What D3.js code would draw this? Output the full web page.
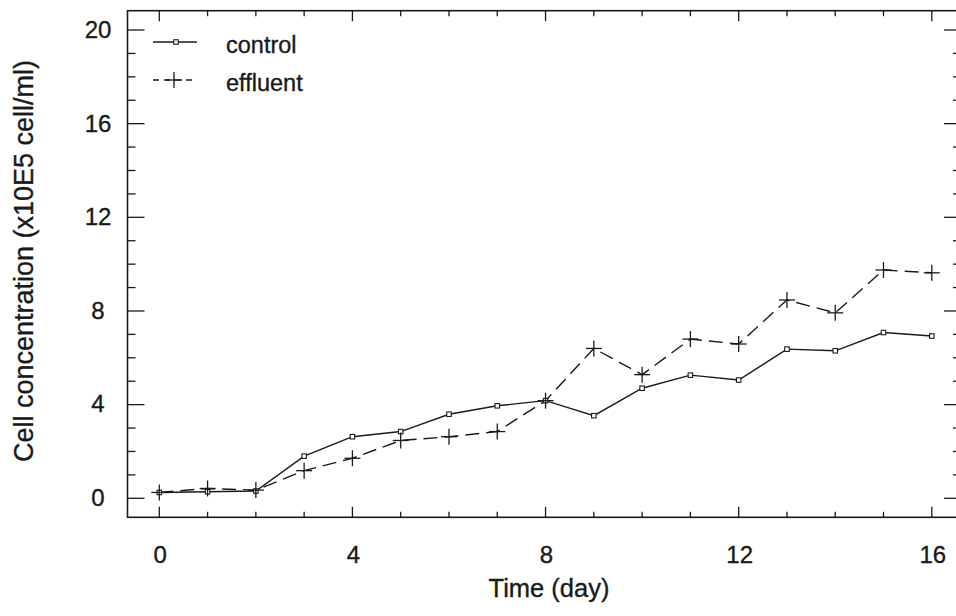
<!DOCTYPE html>
<html>
<head>
<meta charset="utf-8">
<script src="https://cdn.jsdelivr.net/npm/d3@7"></script>
<style>
  html, body { margin: 0; padding: 0; background: #fff; }
  svg { display: block; }
  text { font-family: "Liberation Sans", Arial, Helvetica, sans-serif; fill: #1a1a1a; stroke: #1a1a1a; stroke-width: 0.35px; }
</style>
</head>
<body>
<svg id="chart" width="956" height="616"></svg>
<script>
// ---- data ----
const days = [0, 1, 2, 3, 4, 5, 6, 7, 8, 9, 10, 11, 12, 13, 14, 15, 16];
const control  = [0.25, 0.28, 0.31, 1.80, 2.63, 2.85, 3.59, 3.95, 4.17, 3.53, 4.70, 5.26, 5.05, 6.37, 6.30, 7.08, 6.93];
const effluent = [0.25, 0.42, 0.35, 1.18, 1.71, 2.47, 2.63, 2.85, 4.17, 6.40, 5.28, 6.80, 6.59, 8.47, 7.92, 9.75, 9.63];
const seriesNames = ["control", "effluent"];
const xTickLabels = [0, 4, 8, 12, 16];
const yTickLabels = [0, 4, 8, 12, 16, 20];
const xTitle = "Time (day)";
const yTitle = "Cell concentration (x10E5 cell/ml)";

// ---- layout ----
const svg = d3.select("#chart");
const frame = { left: 127.5, right: 961, top: 10.7, bottom: 517.3 };
const x = d3.scaleLinear().domain([0, 16]).range([159.3, 931.8]);
const y = d3.scaleLinear().domain([0, 20]).range([498.3, 30]);
const ink = "#1a1a1a";
const fontSize = 23;

// frame
svg.append("rect")
  .attr("x", frame.left).attr("y", frame.top)
  .attr("width", frame.right - frame.left).attr("height", frame.bottom - frame.top)
  .attr("fill", "none").attr("stroke", ink).attr("stroke-width", 1.6);

// ticks: minor every 1 unit, major every 4
const yMinor = d3.range(0, 21, 1);
const xMinor = d3.range(0, 17, 1);
const ticks = svg.append("g").attr("stroke", ink).attr("stroke-width", 1.3);
yMinor.forEach(v => {
  const len = v % 4 === 0 ? 17 : 8;
  ticks.append("line").attr("x1", frame.left).attr("x2", frame.left + len)
    .attr("y1", y(v)).attr("y2", y(v));
  ticks.append("line").attr("x1", frame.right).attr("x2", frame.right - len)
    .attr("y1", y(v)).attr("y2", y(v));
});
xMinor.forEach(d => {
  const len = d % 4 === 0 ? 10.5 : 5.5;
  ticks.append("line").attr("x1", x(d)).attr("x2", x(d))
    .attr("y1", frame.bottom).attr("y2", frame.bottom - len);
  ticks.append("line").attr("x1", x(d)).attr("x2", x(d))
    .attr("y1", frame.top).attr("y2", frame.top + len);
});

// tick labels
svg.append("g").selectAll("text").data(yTickLabels).join("text")
  .attr("x", 98).attr("y", d => y(d) + 1.5)
  .attr("text-anchor", "middle").attr("dominant-baseline", "middle")
  .attr("font-size", 24).text(d => d);
svg.append("g").selectAll("text").data(xTickLabels).join("text")
  .attr("x", d => x(d) + 1).attr("y", 557)
  .attr("text-anchor", "middle").attr("dominant-baseline", "middle")
  .attr("font-size", 24).text(d => d);

// axis titles
svg.append("text").attr("x", 549).attr("y", 590)
  .attr("text-anchor", "middle").attr("dominant-baseline", "middle")
  .attr("font-size", 25.5).text(xTitle);
svg.append("text")
  .attr("transform", "translate(26,261) rotate(-90)")
  .attr("text-anchor", "middle").attr("dominant-baseline", "middle")
  .attr("font-size", 27).text(yTitle);

// lines
const line = d3.line().x((d, i) => x(days[i])).y(d => y(d));
svg.append("path").datum(control).attr("d", line)
  .attr("fill", "none").attr("stroke", ink).attr("stroke-width", 1.4);
svg.append("path").datum(effluent).attr("d", line)
  .attr("fill", "none").attr("stroke", ink).attr("stroke-width", 1.4)
  .attr("stroke-dasharray", "14,7");

// markers
const sq = 4.5;
svg.append("g").selectAll("rect").data(control).join("rect")
  .attr("x", (d, i) => x(days[i]) - sq / 2).attr("y", d => y(d) - sq / 2)
  .attr("width", sq).attr("height", sq)
  .attr("fill", "#fff").attr("stroke", ink).attr("stroke-width", 1.1);
const pl = 8;
const plus = svg.append("g").attr("stroke", ink).attr("stroke-width", 1.3);
effluent.forEach((v, i) => {
  const cx = x(days[i]), cy = y(v);
  plus.append("line").attr("x1", cx - pl).attr("x2", cx + pl).attr("y1", cy).attr("y2", cy);
  plus.append("line").attr("x1", cx).attr("x2", cx).attr("y1", cy - pl).attr("y2", cy + pl);
});

// legend
const leg = svg.append("g");
const legRows = [42, 80];
seriesNames.forEach((name, k) => {
  const ly = legRows[k];
  const l = leg.append("line").attr("x1", 153).attr("x2", 197).attr("y1", ly).attr("y2", ly)
    .attr("stroke", ink).attr("stroke-width", 1.4);
  if (k === 0) {
    leg.append("rect").attr("x", 176 - sq / 2).attr("y", ly - sq / 2)
      .attr("width", sq).attr("height", sq)
      .attr("fill", "#fff").attr("stroke", ink).attr("stroke-width", 1.1);
  } else {
    l.attr("stroke-dasharray", "6,5");
    leg.append("line").attr("x1", 174 - pl).attr("x2", 174 + pl).attr("y1", ly).attr("y2", ly)
      .attr("stroke", ink).attr("stroke-width", 1.3);
    leg.append("line").attr("x1", 174).attr("x2", 174).attr("y1", ly - pl).attr("y2", ly + pl)
      .attr("stroke", ink).attr("stroke-width", 1.3);
  }
  leg.append("text").attr("x", 226).attr("y", ly + 5)
    .attr("dominant-baseline", "middle").attr("font-size", 23.5).text(name);
});
</script>
</body>
</html>
